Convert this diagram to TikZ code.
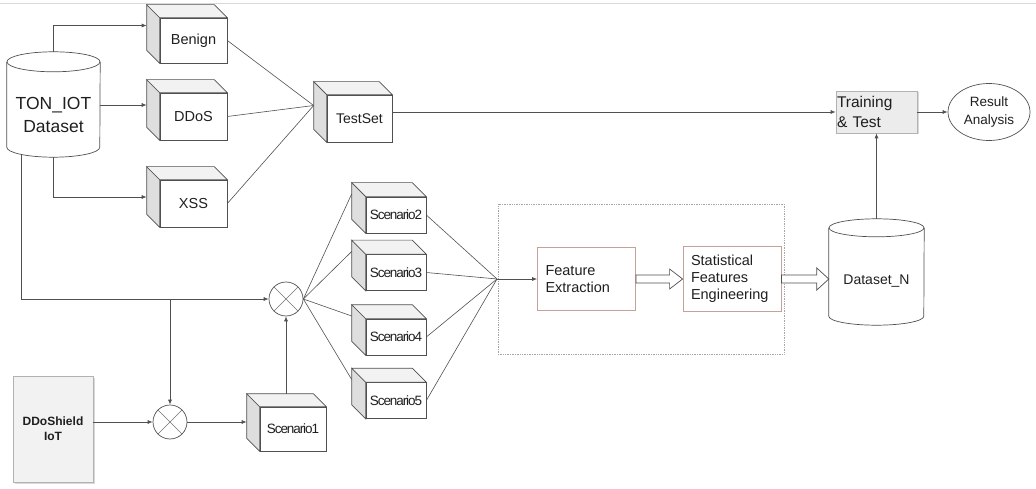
\documentclass[tikz,border=0pt]{standalone}
\usepackage{fontspec}
\setmainfont{Liberation Sans}
\newfontfamily\tightfont[LetterSpace=-8]{Liberation Sans}
\usetikzlibrary{shapes.geometric,arrows.meta,calc,shadows}

\definecolor{ink}{HTML}{1F1F1F}
\definecolor{edge}{HTML}{505050}
\definecolor{sideface}{HTML}{DEDEDE}
\definecolor{topface}{HTML}{F2F2F2}
\definecolor{rosebox}{HTML}{C4A29A}

\tikzset{
  base/.style={text=ink, font=\fontsize{14.5}{17}\selectfont},
  cube/.style={base, draw=edge, line width=0.7pt, fill=white, inner sep=0pt,
               minimum width=67pt, minimum height=47pt},
  scen/.style={cube, minimum width=60pt, minimum height=36pt,
               font=\tightfont\fontsize{13.5}{15}\selectfont},
  cylbody/.style={base, inner sep=0pt, align=center},
  cylline/.style={draw=edge, line width=0.7pt},
  cubeside/.style={draw=edge, line width=0.7pt, fill=sideface},
  cubetop/.style={draw=edge, line width=0.7pt, fill=topface},
  arr/.style={draw=edge, line width=0.7pt, -{Latex[length=5pt,width=4pt]}},
  wire/.style={draw=edge, line width=0.6pt},
  mixer/.style={circle, draw=edge, line width=0.7pt, minimum size=34pt, inner sep=0pt},
  stepblock/.style={base, draw=rosebox, line width=0.8pt, align=left, inner sep=8pt},
  hollow/.style={draw=edge, line width=0.7pt, fill=white},
  dotbox/.style={draw=gray!70, densely dotted, line width=0.7pt, inner sep=0pt},
  shieldbox/.style={draw=gray!60, fill=gray!10, line width=0.7pt, align=center,
                    minimum width=80pt, minimum height=106pt, text=ink,
                    font=\bfseries\fontsize{12}{15}\selectfont,
                    drop shadow={shadow xshift=1.5pt, shadow yshift=-1.5pt, opacity=0.3}},
  trainbox/.style={base, draw=gray!60, fill=gray!15, line width=0.7pt, align=left,
                   text width=79pt, inner sep=1pt, minimum height=42pt,
                   font=\fontsize{15.5}{20}\selectfont,
                   drop shadow={shadow xshift=1.5pt, shadow yshift=-1.5pt, opacity=0.3}},
  resultnode/.style={base, ellipse, draw=edge, line width=0.7pt, inner sep=0pt,
                     minimum width=82pt, minimum height=57pt, align=center,
                     font=\fontsize{13.5}{18}\selectfont},
}

% side and top faces of a box drawn as a cube: #1 node, #2 depth
\newcommand{\cubesides}[2]{%
  \path[cubeside] (#1.north west) -- ++(-#2,#2) -- ([shift={(-#2,#2)}]#1.south west)
       -- (#1.south west) -- cycle;
  \path[cubetop] (#1.north west) -- ++(-#2,#2) -- ([shift={(-#2,#2)}]#1.north east)
       -- (#1.north east) -- cycle;
}
% outline of a database cylinder around a body node: #1 node, #2 x radius, #3 y radius
\newcommand{\cylsides}[3]{%
  \draw[cylline] ([yshift=#3pt]#1.north west) -- ([yshift=#3pt]#1.south west)
       arc[start angle=180, end angle=360, x radius=#2, y radius=#3]
       -- ([yshift=#3pt]#1.north east);
  \draw[cylline] ([yshift=#3pt]#1.north) ellipse[x radius=#2, y radius=#3];
}

\begin{document}
\begin{tikzpicture}[x=1pt, y=1pt]
\useasboundingbox (0,0) rectangle (1036,488);
\draw[gray!30, line width=0.8pt] (0,485) -- (1036,485);

% source dataset
\node[cylbody, minimum width=93pt, minimum height=85pt,
      font=\fontsize{17.5}{23}\selectfont] (ton) at (53.5,373.5) {TON\_IOT\\Dataset};
\cylsides{ton}{46.5}{10}

% traffic classes
\node[cube, minimum height=45pt] (benign) at (193.5,447.5) {Benign};
\node[cube] (ddos) at (193.5,371.5) {DDoS};
\node[cube] (xss) at (193.5,284.5) {XSS};
\node[cube, minimum width=65pt, font=\fontsize{14}{17}\selectfont] (testset) at (359.5,369.5) {TestSet};
\foreach \n in {benign,ddos,xss,testset} {\cubesides{\n}{13}}

\coordinate (benin) at ([shift={(-13,15)}]benign.west);
\coordinate (ddosin) at ([shift={(-13,11.5)}]ddos.west);
\coordinate (xssin) at ([shift={(-13,6.5)}]xss.west);
\coordinate (testin) at ([shift={(-13,13)}]testset.west);
\draw[arr] ([yshift=20pt]ton.north) |- (benin);
\draw[arr] (ton.east |- ddosin) -- (ddosin);
\draw[arr] (ton.south) |- (xssin);
\draw[wire] (benign.east) -- (testin);
\draw[wire] (ddos.east) -- (testin);
\draw[wire] (xss.east) -- (testin);

% training and evaluation
\node[trainbox] (train) at (876.5,376) {Training\\\& Test};
\node[resultnode] (res) at (989,376) {Result\\Analysis};
\draw[arr] (testset.east |- train.west) -- (train.west);
\draw[arr] (train.east) -- (res.west);

% IoT source and mixing
\node[shieldbox] (ddosh) at (53,59) {DDoShield\\IoT};
\node[mixer] (mix1) at (170,66) {};
\node[mixer] (mix2) at (286,189) {};
\foreach \m in {mix1,mix2} {
  \draw[edge!80, line width=0.6pt] (\m.north east) -- (\m.south west);
  \draw[edge!80, line width=0.6pt] (\m.north west) -- (\m.south east);
}
\node[cube, minimum width=66pt, minimum height=44pt,
      font=\tightfont\fontsize{13.5}{15}\selectfont] (s1) at (293,59) {Scenario1};
\cubesides{s1}{13}

\coordinate (tap) at (mix1.north |- mix2.west);
\coordinate (s1top) at ([yshift=13pt]s1.north);
\draw[arr] ([shift={(-32.5,3)}]ton.south) |- (mix2.west);
\draw[arr] (tap) -- (mix1.north);
\draw[arr] (ddosh.east |- mix1.west) -- (mix1.west);
\draw[arr] (mix1.east) -- ($(s1.west |- mix1.east)+(-13,0)$);
\draw[arr] (mix2.south |- s1top) -- (mix2.south);

% mixed scenarios
\node[scen] (s2) at (396,273) {Scenario2};
\node[scen] (s3) at (396,215.5) {Scenario3};
\node[scen] (s4) at (396,151) {Scenario4};
\node[scen] (s5) at (396,87.5) {Scenario5};
\coordinate (conv) at (497,209);
\foreach \s in {s2,s3,s4,s5} {
  \cubesides{\s}{14}
  \draw[wire] (mix2.east) -- ([shift={(-14,21)}]\s.west);
  \draw[wire] (\s.east) -- (conv);
}

% feature pipeline
\node[dotbox, minimum width=286pt, minimum height=150pt] (stage) at (641,209) {};
\node[stepblock, text width=82pt, minimum height=63pt] (fe) at (586.5,209) {Feature\\Extraction};
\node[stepblock, text width=82pt, minimum height=65pt, inner sep=8pt] (sfe) at (732,209)
     {Statistical\\Features\\Engineering};
\draw[arr] (conv) -- (fe.west);

\node[cylbody, minimum width=95pt, minimum height=88pt,
      font=\fontsize{14}{17}\selectfont] (dsn) at (876.5,207) {Dataset\_N};
\cylsides{dsn}{47.5}{9}
\coordinate (dsnin) at (dsn.west |- sfe.east);

\draw[hollow] ([yshift=4pt]fe.east) -- ($(sfe.west)+(-13,4)$) -- ($(sfe.west)+(-13,10)$)
   -- (sfe.west) -- ($(sfe.west)+(-13,-10)$) -- ($(sfe.west)+(-13,-4)$)
   -- ([yshift=-4pt]fe.east) -- cycle;
\draw[hollow] ([yshift=4pt]sfe.east) -- ($(dsnin)+(-12,4)$) -- ($(dsnin)+(-12,11)$)
   -- (dsnin) -- ($(dsnin)+(-12,-11)$) -- ($(dsnin)+(-12,-4)$)
   -- ([yshift=-4pt]sfe.east) -- cycle;

\draw[arr] ([yshift=18pt]dsn.north) -- (train.south);
\end{tikzpicture}
\end{document}
